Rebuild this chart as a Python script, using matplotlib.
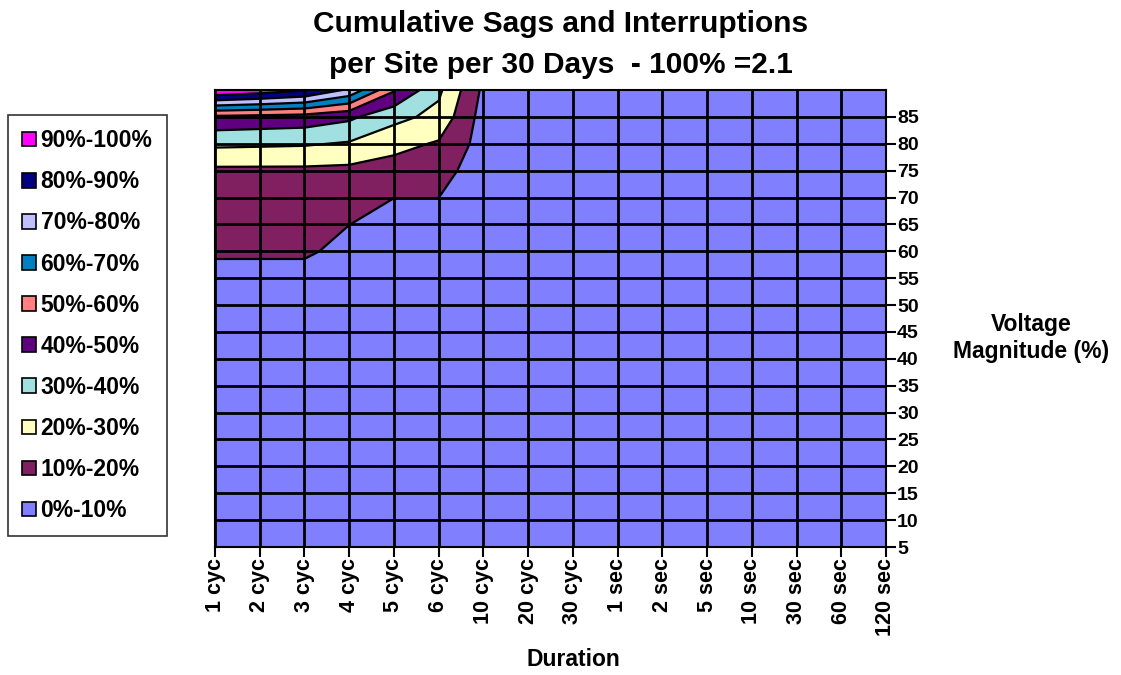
import numpy as np
import matplotlib
matplotlib.use("Agg")
import matplotlib.pyplot as plt
from matplotlib.patches import Patch

plt.rcParams['font.family'] = ['Liberation Sans', 'DejaVu Sans']
plt.rcParams['font.weight'] = 'bold'

durations = ["1 cyc", "2 cyc", "3 cyc", "4 cyc", "5 cyc", "6 cyc", "10 cyc", "20 cyc",
             "30 cyc", "1 sec", "2 sec", "5 sec", "10 sec", "30 sec", "60 sec", "120 sec"]
voltages = [5, 10, 15, 20, 25, 30, 35, 40, 45, 50, 55, 60, 65, 70, 75, 80, 85, 90]

# cumulative percentage (100% = 2.1 events) per voltage row, one value per duration
cum_pct = {
    90: [100, 96, 91, 78, 51, 32, 8.0, 4.0, 3.5, 3.0, 2.5, 2.0, 1.5, 1.0, 0.8, 0.5],
    85: [48, 47, 46, 42, 33, 27, 6.0, 3.5, 3.0, 2.5, 2.0, 1.8, 1.4, 1.0, 0.8, 0.5],
    80: [32, 31.5, 31, 29, 23, 19, 6.0, 3.0, 2.8, 2.3, 1.9, 1.6, 1.3, 0.9, 0.7, 0.5],
    75: [18, 18, 18, 17.5, 16, 15, 3.0, 2.5, 2.3, 2.0, 1.7, 1.5, 1.2, 0.9, 0.7, 0.5],
    70: [15.5, 15, 15, 14, 10.05, 10.05, 2.0, 2.0, 1.8, 1.6, 1.5, 1.3, 1.1, 0.8, 0.6, 0.4],
    65: [13, 12.5, 12.5, 10.05, 8.0, 8.0, 1.8, 1.8, 1.6, 1.5, 1.3, 1.2, 1.0, 0.8, 0.6, 0.4],
    60: [11, 11, 11, 8.0, 7.0, 7.0, 1.6, 1.6, 1.5, 1.4, 1.2, 1.1, 0.9, 0.7, 0.5, 0.4],
    55: [7.5, 7.5, 7.5, 7.0, 6.0, 6.0, 1.5, 1.5, 1.4, 1.3, 1.1, 1.0, 0.8, 0.7, 0.5, 0.3],
    50: [6.0, 6.0, 6.0, 5.5, 5.0, 5.0, 1.4, 1.4, 1.3, 1.2, 1.0, 0.9, 0.8, 0.6, 0.5, 0.3],
    45: [5.0, 5.0, 5.0, 4.8, 4.5, 4.5, 1.3, 1.3, 1.2, 1.1, 1.0, 0.9, 0.7, 0.6, 0.4, 0.3],
    40: [4.5, 4.5, 4.5, 4.3, 4.0, 4.0, 1.2, 1.2, 1.1, 1.0, 0.9, 0.8, 0.7, 0.5, 0.4, 0.3],
    35: [4.0, 4.0, 4.0, 3.8, 3.5, 3.5, 1.1, 1.1, 1.0, 0.9, 0.8, 0.7, 0.6, 0.5, 0.4, 0.2],
    30: [3.5, 3.5, 3.5, 3.3, 3.0, 3.0, 1.0, 1.0, 0.9, 0.8, 0.7, 0.6, 0.5, 0.4, 0.3, 0.2],
    25: [3.0, 3.0, 3.0, 2.8, 2.5, 2.5, 0.9, 0.9, 0.8, 0.7, 0.6, 0.5, 0.5, 0.4, 0.3, 0.2],
    20: [2.5, 2.5, 2.5, 2.3, 2.0, 2.0, 0.8, 0.8, 0.7, 0.6, 0.5, 0.5, 0.4, 0.3, 0.2, 0.2],
    15: [2.0, 2.0, 2.0, 1.8, 1.6, 1.6, 0.7, 0.7, 0.6, 0.5, 0.5, 0.4, 0.3, 0.3, 0.2, 0.1],
    10: [1.5, 1.5, 1.5, 1.4, 1.2, 1.2, 0.6, 0.6, 0.5, 0.4, 0.4, 0.3, 0.3, 0.2, 0.2, 0.1],
    5:  [1.0, 1.0, 1.0, 0.9, 0.8, 0.8, 0.5, 0.5, 0.4, 0.3, 0.3, 0.2, 0.2, 0.2, 0.1, 0.1],
}

band_labels = ["0%-10%", "10%-20%", "20%-30%", "30%-40%", "40%-50%",
               "50%-60%", "60%-70%", "70%-80%", "80%-90%", "90%-100%"]
band_colors = ["#8080FF", "#802060", "#FFFFC0", "#A0E0E0", "#600080",
               "#FF8080", "#0080C0", "#C0C0FF", "#000080", "#FF00FF"]
levels = [0, 10, 20, 30, 40, 50, 60, 70, 80, 90, 100]

Z = np.array([cum_pct[v] for v in voltages])
X = np.arange(len(durations))

fig = plt.figure(figsize=(11.21, 6.75), dpi=100)
ax = fig.add_axes([215/1121, 1-547/675, 671/1121, 457/675])

ax.contourf(X, voltages, Z, levels=levels, colors=band_colors)
ax.contour(X, voltages, Z, levels=levels[1:-1], colors='black', linewidths=1.6)

ax.set_xlim(0, len(durations)-1)
ax.set_ylim(5, 90)
ax.set_xticks(X)
ax.set_xticklabels(durations, rotation=90, fontsize=15.5, fontweight='bold')
yt = list(range(5, 90, 5))
ax.set_yticks(yt)
ax.set_yticklabels([str(v) for v in yt], fontsize=14, fontweight='bold')
ax.yaxis.tick_right()
ax.tick_params(axis='both', direction='out', length=7, width=1.5, color='black', pad=1)
ax.grid(True, color='black', linewidth=2)
ax.set_axisbelow(False)
for s in ax.spines.values():
    s.set_linewidth(1.5)
    s.set_color('black')

fig.text(0.5, 1-24/675, "Cumulative Sags and Interruptions", ha='center', va='center',
         fontsize=21.5, fontweight='bold')
fig.text(0.5, 1-65/675, "per Site per 30 Days  - 100% =2.1", ha='center', va='center',
         fontsize=21.5, fontweight='bold')
fig.text(573/1121, 1-660/675, "Duration", ha='center', va='center', fontsize=16.5, fontweight='bold')
fig.text(1031/1121, 1-338/675, "Voltage\nMagnitude (%)", ha='center', va='center',
         fontsize=16.5, fontweight='bold', linespacing=1.25)

handles = [Patch(facecolor=c, edgecolor='black', linewidth=1.2) for c in band_colors][::-1]
leg = fig.legend(handles, band_labels[::-1], loc='upper left',
                 bbox_to_anchor=(8/1121, 1-115/675), frameon=True, fancybox=False,
                 edgecolor='black', fontsize=16.5, handlelength=0.6, handleheight=0.6,
                 handletextpad=0.2, labelspacing=0.79, borderpad=0.62, borderaxespad=0)
leg.get_frame().set_linewidth(1.2)
for t in leg.get_texts():
    t.set_fontweight('bold')

fig.savefig("out.png", dpi=100)
